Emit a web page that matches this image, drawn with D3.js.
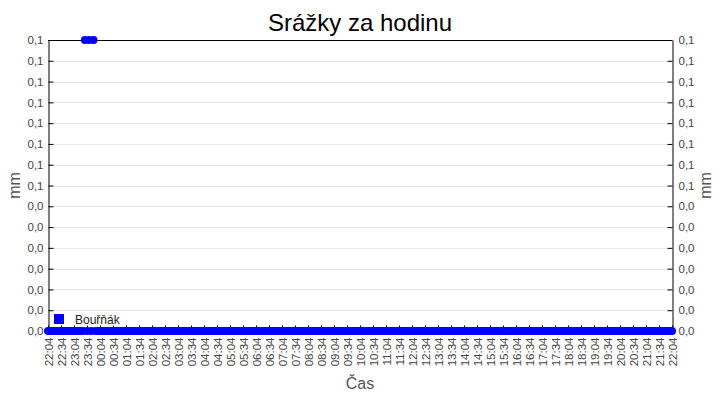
<!DOCTYPE html>
<html>
<head>
<meta charset="utf-8">
<script src="https://cdn.jsdelivr.net/npm/d3@7/dist/d3.min.js"></script>
<style>
  body { margin: 0; background: #fff; }
  svg { display: block; }
</style>
</head>
<body>
<svg id="chart" width="720" height="400"></svg>
<script>
// ---- data ----
const chartTitle = "Srážky za hodinu";
const seriesName = "Bouřňák";
const yTitle = "mm";
const xTitle = "Čas";
const startTime = "2000-01-01T22:04:00";
const endTime = "2000-01-02T22:04:00";
const sampleStepMinutes = 5;
// one row per hour of 5-minute samples, starting 22:04
const rainValues = [
  0,0,0,0,0,0,0,0,0,0,0,0,
  0,0,0,0,0,0.1,0,0.1,0,0.1,0,0,
  0,0,0,0,0,0,0,0,0,0,0,0,
  0,0,0,0,0,0,0,0,0,0,0,0,
  0,0,0,0,0,0,0,0,0,0,0,0,
  0,0,0,0,0,0,0,0,0,0,0,0,
  0,0,0,0,0,0,0,0,0,0,0,0,
  0,0,0,0,0,0,0,0,0,0,0,0,
  0,0,0,0,0,0,0,0,0,0,0,0,
  0,0,0,0,0,0,0,0,0,0,0,0,
  0,0,0,0,0,0,0,0,0,0,0,0,
  0,0,0,0,0,0,0,0,0,0,0,0,
  0,0,0,0,0,0,0,0,0,0,0,0,
  0,0,0,0,0,0,0,0,0,0,0,0,
  0,0,0,0,0,0,0,0,0,0,0,0,
  0,0,0,0,0,0,0,0,0,0,0,0,
  0,0,0,0,0,0,0,0,0,0,0,0,
  0,0,0,0,0,0,0,0,0,0,0,0,
  0,0,0,0,0,0,0,0,0,0,0,0,
  0,0,0,0,0,0,0,0,0,0,0,0,
  0,0,0,0,0,0,0,0,0,0,0,0,
  0,0,0,0,0,0,0,0,0,0,0,0,
  0,0,0,0,0,0,0,0,0,0,0,0,
  0,0,0,0,0,0,0,0,0,0,0,0,
  0
];
const yMax = 0.1;
const yTickCount = 15;
const xTickStepMinutes = 30;

// ---- layout ----
const svg = d3.select("#chart");
const margin = { left: 48, right: 48, top: 40, bottom: 69 };
const W = 720, H = 400;
const x0 = margin.left, x1 = W - margin.right, y0 = H - margin.bottom, y1 = margin.top;

const t0 = new Date(startTime), t1 = new Date(endTime);
const data = rainValues.map((v, i) => ({ t: new Date(t0.getTime() + i * sampleStepMinutes * 60000), v }));

const x = d3.scaleTime().domain([t0, t1]).range([x0, x1]);
const y = d3.scaleLinear().domain([0, yMax]).range([y0, y1]);

const yTicks = d3.range(yTickCount).map(i => i * yMax / (yTickCount - 1));
const fmtY = v => d3.format(".1f")(v).replace(".", ",");
const xTickVals = d3.range(0, (t1 - t0) / 60000 + 1, xTickStepMinutes).map(m => new Date(t0.getTime() + m * 60000));
const fmtX = d3.timeFormat("%H:%M");

// grid
svg.append("g").selectAll("line").data(yTicks.slice(1, -1)).join("line")
  .attr("x1", x0).attr("x2", x1)
  .attr("y1", d => Math.round(y(d)) + 0.5).attr("y2", d => Math.round(y(d)) + 0.5)
  .attr("stroke", "#e6e6e6").attr("stroke-width", 1);

// top border
svg.append("line").attr("x1", x0).attr("x2", x1).attr("y1", y1 + 0.5).attr("y2", y1 + 0.5)
  .attr("stroke", "#000").attr("stroke-width", 1);

// axes
const tickFont = "'Liberation Sans', Arial, sans-serif";
const tickSize = "11.5px";
const leftAxis = d3.axisLeft(y).tickValues(yTicks).tickFormat(fmtY).tickSizeInner(-5).tickSizeOuter(0).tickPadding(5);
const gL = svg.append("g").attr("transform", `translate(${x0 + 0.5},0)`).call(leftAxis);
const rightAxis = d3.axisRight(y).tickValues(yTicks).tickFormat(fmtY).tickSizeInner(-5).tickSizeOuter(0).tickPadding(6);
const gR = svg.append("g").attr("transform", `translate(${x1 + 0.5},0)`).call(rightAxis);
[gL, gR].forEach(g => {
  g.select(".domain").attr("stroke", "#000");
  g.selectAll(".tick line").attr("stroke", "#000");
  g.selectAll(".tick text").attr("fill", "#444").style("font-family", tickFont).style("font-size", tickSize);
});

const bottomAxis = d3.axisBottom(x).tickValues(xTickVals).tickFormat(fmtX).tickSizeInner(-6).tickSizeOuter(0).tickPadding(0);
const gB = svg.append("g").attr("transform", `translate(0,${y0 + 0.5})`).call(bottomAxis);
gB.select(".domain").attr("stroke", "#000");
gB.selectAll(".tick line").attr("stroke", "#000");
gB.selectAll(".tick text")
  .attr("fill", "#444").style("font-family", tickFont).style("font-size", tickSize)
  .attr("text-anchor", "end").attr("dy", "0.35em").attr("y", 0)
  .attr("transform", "translate(0,6) rotate(-90)").attr("x", 0);

// points
svg.append("g").selectAll("circle").data(data).join("circle")
  .attr("cx", d => x(d.t)).attr("cy", d => y(d.v)).attr("r", 4)
  .attr("fill", "#0000ff");

// title
svg.append("text").attr("x", 360).attr("y", 31).attr("text-anchor", "middle")
  .style("font-family", "'Liberation Sans', Arial, sans-serif").style("font-size", "24px")
  .attr("fill", "#000").text(chartTitle);

// axis titles
const titleFont = "'Liberation Sans', Arial, sans-serif";
svg.append("text").attr("transform", `translate(20,${(y0 + y1) / 2}) rotate(-90)`)
  .attr("text-anchor", "middle").style("font-family", titleFont).style("font-size", "16px")
  .attr("fill", "#555").text(yTitle);
svg.append("text").attr("transform", `translate(711,${(y0 + y1) / 2}) rotate(-90)`)
  .attr("text-anchor", "middle").style("font-family", titleFont).style("font-size", "16px")
  .attr("fill", "#555").text(yTitle);
svg.append("text").attr("x", (x0 + x1) / 2).attr("y", 389).attr("text-anchor", "middle")
  .style("font-family", titleFont).style("font-size", "16px").attr("fill", "#555").text(xTitle);

// legend
const lg = svg.append("g").attr("transform", "translate(54,314)");
lg.append("rect").attr("width", 10).attr("height", 10).attr("fill", "#0000ff");
lg.append("text").attr("x", 21).attr("y", 9.5).style("font-family", titleFont).style("font-size", "12px")
  .attr("fill", "#222").text(seriesName);
</script>
</body>
</html>
